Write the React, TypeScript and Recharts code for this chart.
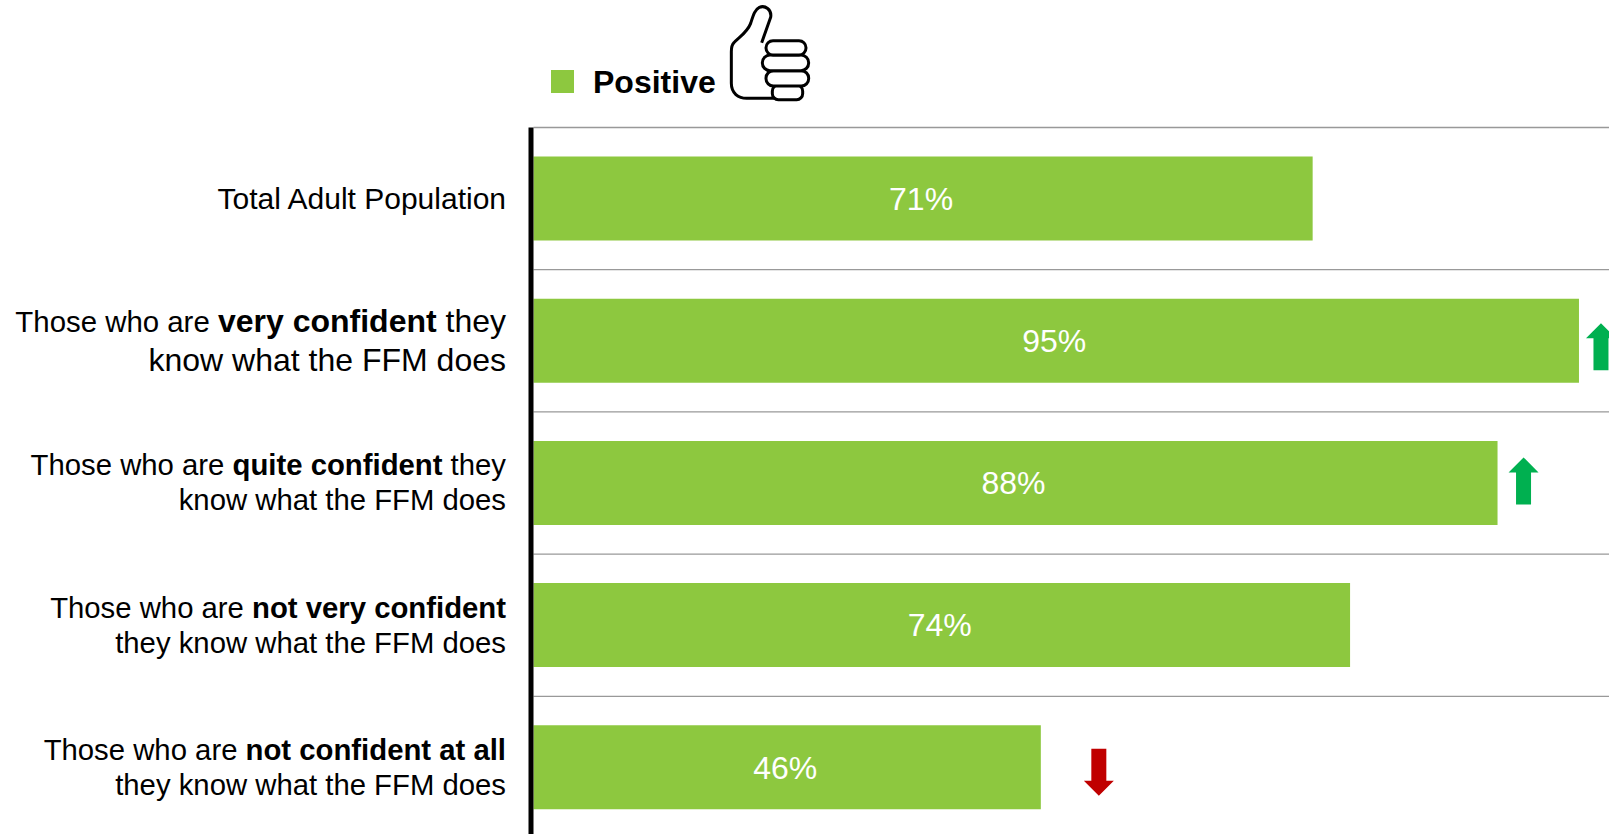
import React from "react";
import { BarChart, Bar, XAxis, YAxis, CartesianGrid, LabelList, Legend } from "recharts";

const categories = ["total", "very", "quite", "notVery", "notAtAll"];
const positiveValues = [70.8, 95, 87.6, 74.2, 46.1];
const trends = ["", "up", "up", "", "down"];
const seriesName = "Positive";

// each line is a list of [text, isBold] runs
const labelLines: [string, boolean][][][] = [
  [[["Total Adult Population", false]]],
  [
    [["Those who are ", false], ["very confident", true], [" they", false]],
    [["know what the FFM does", false]],
  ],
  [
    [["Those who are ", false], ["quite confident", true], [" they", false]],
    [["know what the FFM does", false]],
  ],
  [
    [["Those who are ", false], ["not very confident", true]],
    [["they know what the FFM does", false]],
  ],
  [
    [["Those who are ", false], ["not confident at all", true]],
    [["they know what the FFM does", false]],
  ],
];

const rows = categories.map((category, i) => ({
  category,
  positive: positiveValues[i],
  trend: trends[i],
}));

const FONT = '"Liberation Sans", Arial, sans-serif';
const GREEN = "#8DC83F";
const labelFontSizes = [30, 32, 29.3, 29.3, 29.3];
const labelLeadFontSizes = [30, 29.4, 29.3, 29.3, 29.3];
const labelBaselines = [
  [10],
  [-9, 30],
  [-8, 27],
  [-7, 28],
  [-7, 28],
];
const arrowGaps = [0, 22, 26, 0, 58];
const arrowShifts = [0, 6, -2, 0, 5];

const CategoryTick = (props: any) => {
  const { x, y, index } = props;
  const lines = labelLines[index] || [];
  return (
    <g>
      {lines.map((runs, li) => (
        <text
          key={li}
          x={x}
          y={y + labelBaselines[index][li]}
          textAnchor="end"
          fontFamily={FONT}
          fontSize={labelFontSizes[index]}
          fill="#000"
        >
          {runs.map(([t, b], ri) => (
            <tspan
              key={ri}
              fontWeight={b ? 700 : 400}
              fontSize={li === 0 && ri === 0 ? labelLeadFontSizes[index] : labelFontSizes[index]}
              style={{ whiteSpace: "pre" }}
            >
              {t}
            </tspan>
          ))}
        </text>
      ))}
    </g>
  );
};

const TrendArrow = (props: any) => {
  const { x, y, width, height, index } = props;
  const trend = trends[index];
  if (!trend) return null;
  const cx = x + width + arrowGaps[index];
  const cy = y + height / 2 + arrowShifts[index];
  const s = trend === "up" ? -1 : 1;
  const d = [
    [-7.5, -s * 23.5],
    [7.5, -s * 23.5],
    [7.5, s * 8.5],
    [15, s * 8.5],
    [0, s * 23.5],
    [-15, s * 8.5],
    [-7.5, s * 8.5],
  ]
    .map(([a, b], i) => `${i ? "L" : "M"}${cx + a} ${cy + b}`)
    .join(" ");
  return <path d={d + " Z"} fill={trend === "up" ? "#00B050" : "#C00000"} />;
};

const ThumbLegend = () => (
  <div style={{ position: "relative", width: 1609, height: 120 }}>
    <div style={{ position: "absolute", left: 551, top: 70, width: 23, height: 23, background: GREEN }} />
    <div
      style={{
        position: "absolute",
        left: 593,
        top: 64,
        fontFamily: FONT,
        fontWeight: 700,
        fontSize: 32,
        lineHeight: "36px",
        color: "#000",
      }}
    >
      {seriesName}
    </div>
    <svg
      width={320}
      height={170}
      viewBox="0 0 960 510"
      style={{ position: "absolute", left: 520, top: 0 }}
      fill="none"
      stroke="#000"
      strokeWidth={9}
      strokeLinejoin="round"
    >
      <path d="M725 128 L752 52 C756 28 735 15 718 22 C705 28 700 45 692 70 C680 100 655 112 642 128 C634 136 634 146 634 155 L634 250 C634 280 655 295 680 295 L770 295" />
      <rect x={757} y={255} width={91} height={44} rx={18} fill="#fff" />
      <rect x={738} y={212} width={128} height={46} rx={22} fill="#fff" />
      <rect x={727} y={165} width={139} height={47} rx={23} fill="#fff" />
      <rect x={738} y={122} width={120} height={43} rx={21} fill="#fff" />
    </svg>
  </div>
);

export default function App() {
  return (
    <div style={{ position: "absolute", left: 0, top: 0, width: 1609, height: 834, overflow: "hidden", background: "#fff" }}>
      <BarChart
        width={1640}
        height={840}
        data={rows}
        layout="vertical"
        margin={{ top: 127.5, right: 6, bottom: 1.5, left: 0 }}
        barCategoryGap={0}
      >
        <CartesianGrid
          vertical={false}
          stroke="#999999"
          strokeWidth={1.3}
          horizontalCoordinatesGenerator={({ offset }: any) =>
            categories.map((_, i) => offset.top + (i * offset.height) / categories.length)
          }
        />
        <XAxis type="number" domain={[0, 100]} hide />
        <YAxis
          type="category"
          dataKey="category"
          width={533.5}
          interval={0}
          tickLine={false}
          tickMargin={21.5}
          tick={<CategoryTick />}
          axisLine={{ stroke: "#000", strokeWidth: 5, transform: "translate(-2.5 0)" }}
        />
        <Legend
          layout="horizontal"
          verticalAlign="middle"
          align="center"
          content={<ThumbLegend />}
          wrapperStyle={{ position: "absolute", left: 0, top: 0, width: 1609, height: 120 }}
        />
        <Bar dataKey="positive" name={seriesName} fill={GREEN} barSize={84} isAnimationActive={false}>
          <LabelList
            dataKey="positive"
            position="center"
            formatter={(v: any) => `${Math.round(Number(v))}%`}
            fill="#fff"
            fontFamily={FONT}
            fontSize={32}
            dx={-2}
          />
          <LabelList dataKey="trend" content={<TrendArrow />} />
        </Bar>
      </BarChart>
    </div>
  );
}
